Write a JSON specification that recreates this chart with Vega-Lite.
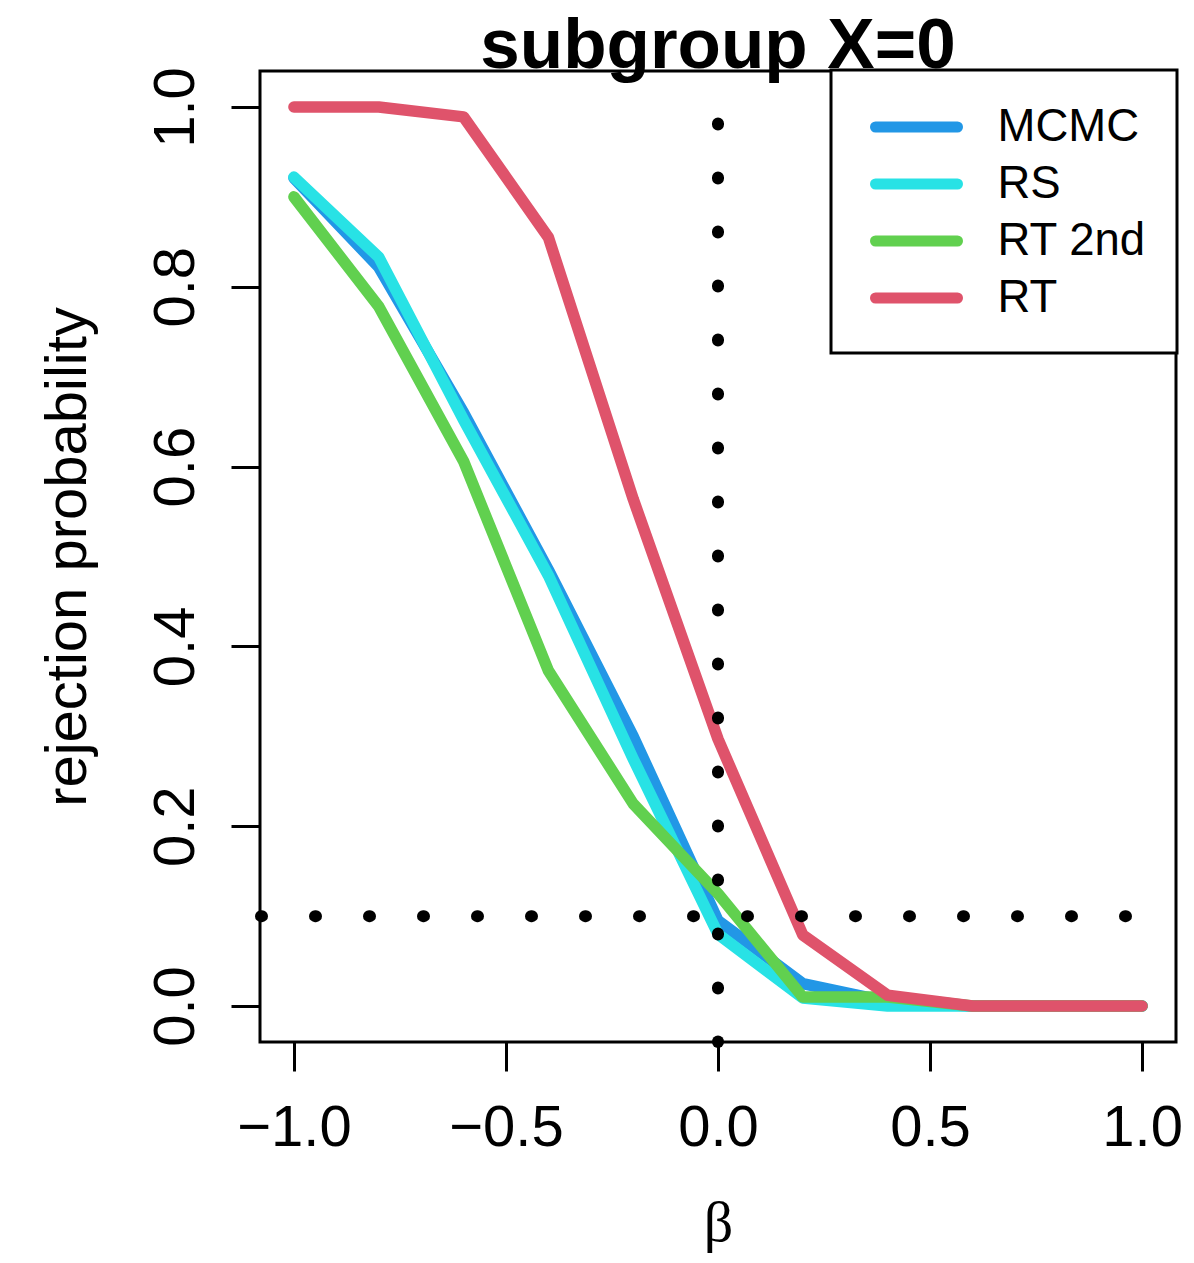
{
  "$schema": "https://vega.github.io/schema/vega-lite/v6.json",
  "width": 916,
  "height": 971,
  "autosize": {"type": "none"},
  "padding": {"left": 260, "top": 71, "right": 18, "bottom": 221},
  "background": "white",
  "title": {"text": "subgroup X=0", "fontSize": 71, "font": "Liberation Sans", "fontWeight": "bold", "anchor": "middle", "frame": "group", "baseline": "alphabetic", "offset": -74, "color": "black"},
  "config": {"view": {"stroke": "black", "strokeWidth": 3}},
  "datasets": {
    "curves": [
      {"method": "MCMC", "beta": -1.0, "p": 0.921},
      {"method": "MCMC", "beta": -0.8, "p": 0.822},
      {"method": "MCMC", "beta": -0.6, "p": 0.66},
      {"method": "MCMC", "beta": -0.4, "p": 0.485},
      {"method": "MCMC", "beta": -0.2, "p": 0.30},
      {"method": "MCMC", "beta": 0.0, "p": 0.095},
      {"method": "MCMC", "beta": 0.2, "p": 0.025},
      {"method": "MCMC", "beta": 0.4, "p": 0.005},
      {"method": "MCMC", "beta": 0.6, "p": 0.0},
      {"method": "MCMC", "beta": 0.8, "p": 0.0},
      {"method": "MCMC", "beta": 1.0, "p": 0.0},
      {"method": "RS", "beta": -1.0, "p": 0.922},
      {"method": "RS", "beta": -0.8, "p": 0.833},
      {"method": "RS", "beta": -0.6, "p": 0.652},
      {"method": "RS", "beta": -0.4, "p": 0.479},
      {"method": "RS", "beta": -0.2, "p": 0.275},
      {"method": "RS", "beta": 0.0, "p": 0.08},
      {"method": "RS", "beta": 0.2, "p": 0.009},
      {"method": "RS", "beta": 0.4, "p": 0.0},
      {"method": "RS", "beta": 0.6, "p": 0.0},
      {"method": "RS", "beta": 0.8, "p": 0.0},
      {"method": "RS", "beta": 1.0, "p": 0.0},
      {"method": "RT 2nd", "beta": -1.0, "p": 0.9},
      {"method": "RT 2nd", "beta": -0.8, "p": 0.778},
      {"method": "RT 2nd", "beta": -0.6, "p": 0.606},
      {"method": "RT 2nd", "beta": -0.4, "p": 0.373},
      {"method": "RT 2nd", "beta": -0.2, "p": 0.225},
      {"method": "RT 2nd", "beta": 0.0, "p": 0.125},
      {"method": "RT 2nd", "beta": 0.2, "p": 0.01},
      {"method": "RT 2nd", "beta": 0.4, "p": 0.01},
      {"method": "RT 2nd", "beta": 0.6, "p": 0.0},
      {"method": "RT 2nd", "beta": 0.8, "p": 0.0},
      {"method": "RT 2nd", "beta": 1.0, "p": 0.0},
      {"method": "RT", "beta": -1.0, "p": 1.0},
      {"method": "RT", "beta": -0.8, "p": 1.0},
      {"method": "RT", "beta": -0.6, "p": 0.989},
      {"method": "RT", "beta": -0.4, "p": 0.855},
      {"method": "RT", "beta": -0.2, "p": 0.564},
      {"method": "RT", "beta": 0.0, "p": 0.297},
      {"method": "RT", "beta": 0.2, "p": 0.079},
      {"method": "RT", "beta": 0.4, "p": 0.012},
      {"method": "RT", "beta": 0.6, "p": 0.0},
      {"method": "RT", "beta": 0.8, "p": 0.0},
      {"method": "RT", "beta": 1.0, "p": 0.0}
    ],
    "hline": [{"level": 0.1}],
    "vline": [{"beta0": 0.0}]
  },
  "layer": [
    {
      "data": {"name": "curves"},
      "mark": {"type": "line", "strokeWidth": 11.5, "strokeCap": "round", "strokeJoin": "round", "clip": false},
      "encoding": {
        "x": {
          "field": "beta", "type": "quantitative",
          "scale": {"domain": [-1.08, 1.08], "nice": false, "zero": false},
          "axis": {
            "values": [-1, -0.5, 0, 0.5, 1], "format": ".1f", "title": "β",
            "grid": false, "domain": false, "tickSize": 29, "tickWidth": 3, "tickColor": "black",
            "labelFont": "Liberation Sans", "labelFontSize": 58, "labelColor": "black",
            "labelBaseline": "alphabetic", "labelPadding": 74, "labelFlush": false, "labelOverlap": false,
            "titleFont": "Liberation Serif", "titleFontSize": 58, "titleFontWeight": "normal", "titleColor": "black",
            "titleX": 458, "titleY": 198, "titleAlign": "center", "titleBaseline": "alphabetic"
          }
        },
        "y": {
          "field": "p", "type": "quantitative",
          "scale": {"domain": [-0.04, 1.04], "nice": false, "zero": false},
          "axis": {
            "values": [0, 0.2, 0.4, 0.6, 0.8, 1], "format": ".1f", "title": "rejection probability",
            "grid": false, "domain": false, "tickSize": 29, "tickWidth": 3, "tickColor": "black",
            "labelFont": "Liberation Sans", "labelFontSize": 58, "labelColor": "black",
            "labelAngle": 270, "labelAlign": "center", "labelBaseline": "alphabetic", "labelPadding": 38,
            "labelFlush": false, "labelOverlap": false,
            "titleFont": "Liberation Sans", "titleFontSize": 58, "titleFontWeight": "normal", "titleColor": "black",
            "titleAngle": 270, "titleX": -175, "titleY": 485.5, "titleAlign": "center", "titleBaseline": "alphabetic"
          }
        },
        "color": {
          "field": "method", "type": "nominal",
          "scale": {"domain": ["MCMC", "RS", "RT 2nd", "RT"], "range": ["#2297E6", "#28E2E5", "#61D04F", "#DF536B"]},
          "legend": {
            "orient": "none", "legendX": 571, "legendY": -1, "title": null,
            "symbolType": "M-2,0H2", "symbolSize": 1681, "symbolStrokeWidth": 11, "symbolOffset": 28.5,
            "labelFont": "Liberation Sans", "labelFontSize": 45.5, "labelColor": "black", "labelOffset": 55,
            "labelLimit": 400, "rowPadding": 7, "padding": 31,
            "strokeColor": "black", "fillColor": "white",
            "encode": {
              "legend": {"update": {"strokeWidth": {"value": 3}}},
              "symbols": {"update": {"strokeCap": {"value": "round"}}}
            }
          }
        }
      }
    },
    {
      "data": {"name": "hline"},
      "mark": {"type": "rule", "strokeWidth": 12, "strokeDash": [1, 53], "strokeDashOffset": 4, "strokeCap": "round", "color": "black"},
      "encoding": {"y": {"field": "level", "type": "quantitative"}}
    },
    {
      "data": {"name": "vline"},
      "mark": {"type": "rule", "strokeWidth": 12, "strokeDash": [1, 53], "strokeDashOffset": 1.5, "strokeCap": "round", "color": "black"},
      "encoding": {"x": {"field": "beta0", "type": "quantitative"}}
    }
  ]
}
